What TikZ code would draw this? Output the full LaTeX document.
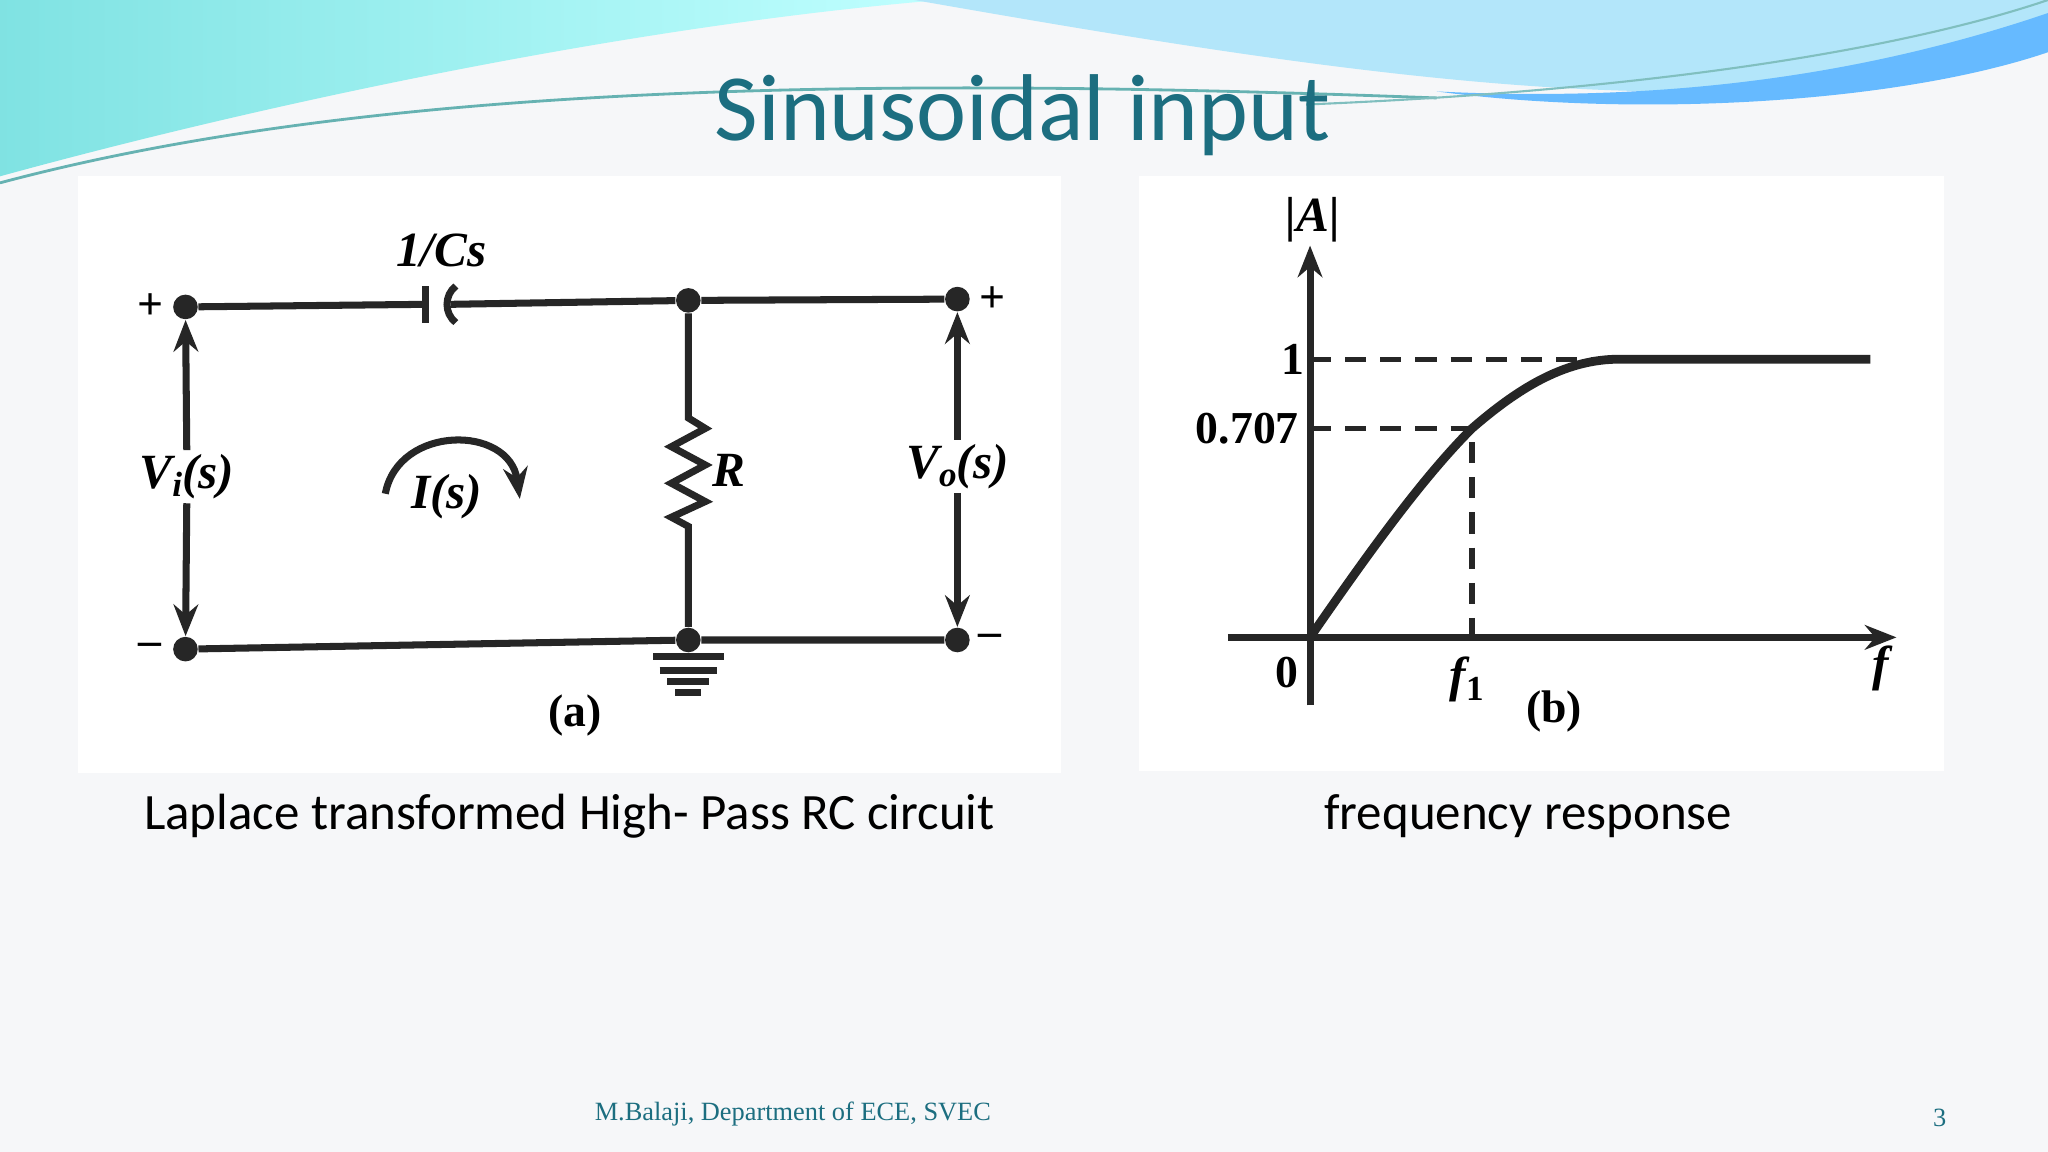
\documentclass[tikz,border=0pt]{standalone}
\usepackage{fontspec}
\setmainfont{Liberation Serif}
\newfontfamily\calfam{Carlito}
\usetikzlibrary{arrows.meta}
\definecolor{teal1}{HTML}{1C6E80}
\definecolor{bg}{HTML}{F6F7F9}
\tikzset{wire/.style={line width=2pt,black!85},
 dot/.style={circle,fill=black!85,inner sep=0pt,minimum size=7pt},
 lab/.style={font=\bfseries\itshape\fontsize{14}{14}\selectfont,inner sep=1pt},
 num/.style={font=\bfseries\fontsize{13}{13}\selectfont,inner sep=1pt},
 arr/.style={wire,-{Stealth[length=9pt,width=7pt]}},
 dsh/.style={line width=1.5pt,black!85,dash pattern=on 6pt off 4pt}}
\begin{document}
\begin{tikzpicture}[x=0.013061cm,y=-0.013061cm]
\useasboundingbox (0,0) rectangle (1568,882);
\fill[bg] (0,0) rectangle (1568,882);
% top waves
\shade[left color=cyan!55!teal!50,right color=cyan!25] (0,0) -- (0,135) .. controls (200,80) and (480,20) .. (720,0) -- cycle;
\fill[cyan!30] (700,0) .. controls (900,35) and (1120,72) .. (1300,70) .. controls (1440,62) and (1520,40) .. (1568,25) -- (1568,0) -- cycle;
\fill[blue!45!cyan!60] (1100,70) .. controls (1300,80) and (1450,50) .. (1568,10) -- (1568,40) .. controls (1450,80) and (1250,90) .. cycle;
\draw[teal!60,line width=0.8pt] (0,140) .. controls (300,60) and (700,60) .. (1100,75);
\draw[teal!50,line width=0.6pt] (1000,80) .. controls (1250,70) and (1450,40) .. (1568,0);
\node[text=teal1,font=\calfam\fontsize{27}{27}\selectfont] (title) at (783,88) {Sinusoidal input};
% panels
\fill[white] (60,135) rectangle (812,592);
\fill[white] (872,135) rectangle (1488,590);
% circuit nodes
\node[dot] (n1) at (142,235) {};
\node[dot] (n2) at (527,230) {};
\node[dot] (n3) at (733,229) {};
\node[dot] (n4) at (142,497) {};
\node[dot] (n5) at (527,490) {};
\node[dot] (n6) at (733,490) {};
\coordinate (c1) at (326,233);
\coordinate (c2) at (345,233);
\draw[wire] (n1) -- (c1);
\draw[wire] (c1)++(0,-14) -- ++(0,28);
\draw[wire] (349,219) .. controls (340,226) and (340,240) .. (349,247);
\draw[wire] (c2) -- (n2) -- (n3);
\draw[wire] (n4) -- (n5) -- (n6);
% resistor
\draw[wire] (n2) -- (527,320) -- (540,328) -- (514,342) -- (540,356) -- (514,370) -- (540,384) -- (514,396) -- (527,403) -- (n5);
% ground
\draw[wire] (n5) -- (527,503);
\draw[wire] (500,503) -- (554,503);
\draw[wire] (505,513) -- (549,513);
\draw[wire] (511,522) -- (543,522);
\draw[wire] (517,530) -- (537,530);
% voltage arrows
\node[lab] (vi) at (143,365) {V\raisebox{-0.35ex}{\fontsize{10}{10}\selectfont i}(s)};
\draw[arr] (vi.north) -- (n1);
\draw[arr] (vi.south) -- (n4);
\node[lab] (vo) at (733,357) {V\raisebox{-0.35ex}{\fontsize{10}{10}\selectfont o}(s)};
\draw[arr] (vo.north) -- (n3);
\draw[arr] (vo.south) -- (n6);
\node[num] (p1) at (115,235) {+};
\node[num] (m1) at (115,497) {\textendash};
\node[num] (p2) at (760,229) {+};
\node[num] (m2) at (758,490) {\textendash};
\node[lab] (cs) at (338,192) {1/Cs};
\node[lab] (rl) at (558,360) {R};
\node[lab] (is) at (342,380) {I(s)};
\coordinate (ia) at (295,378);
\coordinate (ib) at (398,382);
\draw[arr] (ia) .. controls (305,325) and (390,325) .. (ib);
\node[num] (a) at (440,548) {(a)};
% graph
\coordinate (o) at (1003,488);
\coordinate (ytop) at (1003,188);
\coordinate (xend) at (1452,488);
\draw[arr] (1003,540) -- (ytop);
\draw[arr] (940,488) -- (xend);
\coordinate (q1) at (1127,328);
\coordinate (q2) at (1240,275);
\draw[wire,line width=2.5pt] (o) .. controls (1050,420) and (1090,365) .. (q1) .. controls (1165,295) and (1200,275) .. (q2) -- (1432,275);
\draw[dsh] (1003,275) -- (q2);
\draw[dsh] (1003,328) -- (q1) -- (1127,488);
\node[lab] (A) at (1005,168) {|A|};
\node[num] (one) at (990,275) {1};
\node[num] (p7) at (955,328) {0.707};
\node[num] (zero) at (985,515) {0};
\node[lab] (f1) at (1123,520) {f\raisebox{-0.4ex}{\fontsize{10}{10}\selectfont\upshape 1}};
\node[lab] (f) at (1440,512) {f};
\node[num] (b) at (1190,545) {(b)};
% captions
\node[font=\calfam\fontsize{14.5}{14.5}\selectfont] (cap1) at (436,625) {Laplace transformed High- Pass RC circuit};
\node[font=\calfam\fontsize{14.5}{14.5}\selectfont] (cap2) at (1170,625) {frequency response};
\node[text=teal1,font=\fontsize{7.5}{7.5}\selectfont] (foot) at (607,853) {M.Balaji, Department of ECE, SVEC};
\node[text=teal1,font=\fontsize{7.5}{7.5}\selectfont] (pg) at (1485,856) {3};
\end{tikzpicture}
\end{document}
